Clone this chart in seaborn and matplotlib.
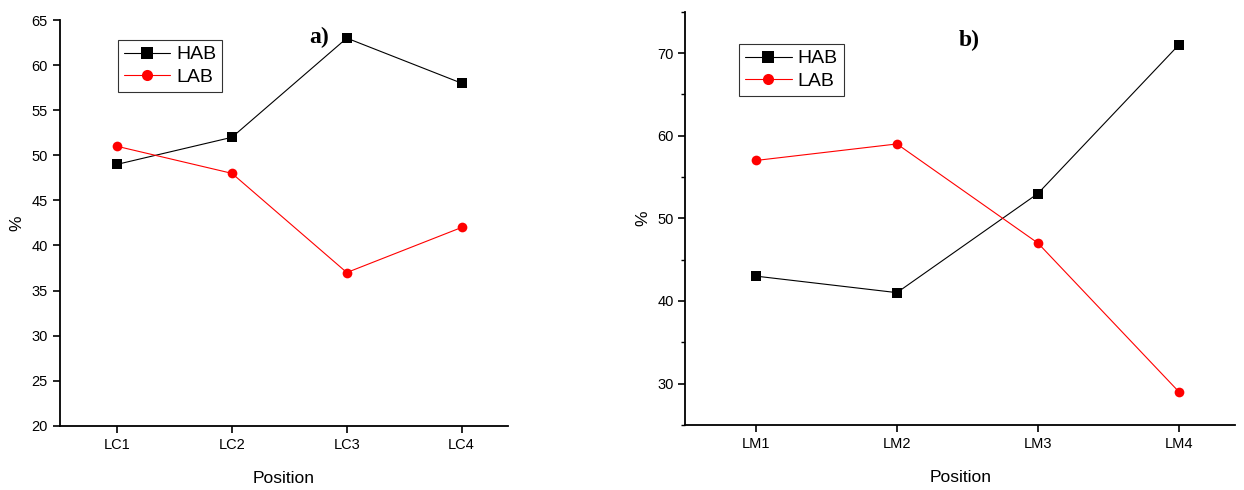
import pandas as pd
import numpy as np
import seaborn as sns
import matplotlib.pyplot as plt
from matplotlib.ticker import MultipleLocator

# panel a) LC positions
pos_a = ['LC1', 'LC2', 'LC3', 'LC4']
hab_a = [49, 52, 63, 58]
lab_a = [51, 48, 37, 42]

# panel b) LM positions
pos_b = ['LM1', 'LM2', 'LM3', 'LM4']
hab_b = [43, 41, 53, 71]
lab_b = [57, 59, 47, 29]

sns.set_style("ticks", {'axes.edgecolor': 'black', 'text.color': 'black',
                        'xtick.color': 'black', 'ytick.color': 'black',
                        'axes.labelcolor': 'black'})
plt.rcParams['font.family'] = ['Liberation Sans', 'DejaVu Sans']

def long_df(pos, hab, lab):
    df = pd.DataFrame({'Position': pos, 'HAB': hab, 'LAB': lab})
    return df.melt(id_vars='Position', var_name='group', value_name='pct')

fig = plt.figure(figsize=(12.44, 4.90), dpi=100)
ax1 = fig.add_axes([0.048, 0.131, 0.36, 0.828])
ax2 = fig.add_axes([0.551, 0.133, 0.442, 0.843])

panels = [(ax1, long_df(pos_a, hab_a, lab_a), (20, 65), 5, None, 'a)', (0.58, 0.958), (0.13, 0.951)),
          (ax2, long_df(pos_b, hab_b, lab_b), (25, 75), 10, 5, 'b)', (0.517, 0.93), (0.098, 0.922))]

for ax, df, ylim, major, minor, tag, tagpos, legpos in panels:
    sns.lineplot(data=df, x='Position', y='pct', hue='group', style='group',
                 palette={'HAB': 'black', 'LAB': 'red'},
                 markers={'HAB': 's', 'LAB': 'o'}, dashes=False,
                 markersize=7, markeredgewidth=0, linewidth=0.8, ax=ax)
    ax.set_xlim(-0.5, 3.4)
    ax.set_ylim(*ylim)
    ax.yaxis.set_major_locator(MultipleLocator(major))
    if minor:
        ax.yaxis.set_minor_locator(MultipleLocator(minor))
    ax.tick_params(axis='both', which='major', labelsize=10.5, length=5, width=1.2)
    ax.tick_params(axis='y', which='minor', length=3, width=1)
    sns.despine(ax=ax)
    for s in ['left', 'bottom']:
        ax.spines[s].set_linewidth(1.3)
    ax.set_xlabel('Position', fontsize=12.5, labelpad=14)
    ax.set_ylabel('%', fontsize=12.5, labelpad=5)
    leg = ax.legend(loc='upper left', bbox_to_anchor=legpos,
                    fontsize=14, frameon=True, fancybox=False, edgecolor='black',
                    handlelength=2.4, borderpad=0.3, labelspacing=0.25, handletextpad=0.3,
                    borderaxespad=0)
    leg.get_frame().set_linewidth(0.8)
    for h in leg.legend_handles:
        h.set_markersize(8)
    ax.text(tagpos[0], tagpos[1], tag, transform=ax.transAxes, fontsize=17,
            fontweight='bold', family='Liberation Serif', ha='center', va='center')

fig.savefig('out.png', dpi=100)
